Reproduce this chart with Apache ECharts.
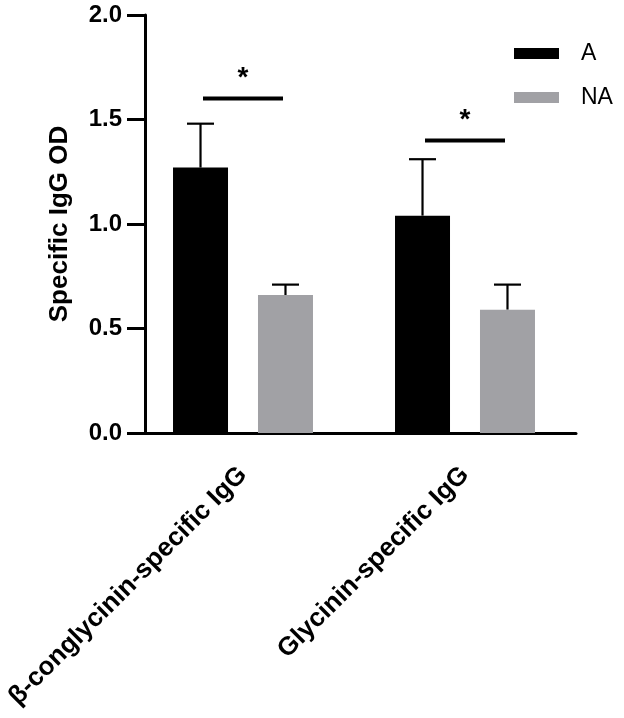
<!DOCTYPE html>
<html>
<head>
<meta charset="utf-8">
<script src="https://cdn.jsdelivr.net/npm/echarts@6/dist/echarts.min.js"></script>
<style>html,body{margin:0;padding:0;background:#fff;}#c{width:624px;height:718px;}</style>
</head>
<body>
<div id="c"></div>
<script>
const categories = ['β-conglycinin-specific IgG', 'Glycinin-specific IgG'];
const seriesNames = ['A', 'NA'];
const valuesA = [1.27, 1.04];
const valuesNA = [0.66, 0.59];
const errA = [0.21, 0.27];
const errNA = [0.05, 0.12];
const sigY = [1.60, 1.40];
const sigLabels = ['*', '*'];
const yTicks = [0, 0.5, 1.0, 1.5, 2.0];

const FONT = '"Liberation Sans", Arial, sans-serif';
const BAR_W = 55;
const GAP = 0.545;
const colors = ['#000000', '#a1a1a5'];

function errSeries(vals, errs, sign) {
  return {
    type: 'custom',
    silent: true,
    z: 1,
    data: vals.map((v, i) => [i, v, errs[i]]),
    renderItem: function (params, api) {
      const p0 = api.coord([api.value(0), api.value(1)]);
      const p1 = api.coord([api.value(0), api.value(1) + api.value(2)]);
      const off = sign * BAR_W * (1 + GAP) / 2;
      const x = p0[0] + off;
      const cap = 27;
      const st = { stroke: '#000', lineWidth: 2.2 };
      return {
        type: 'group',
        children: [
          { type: 'line', shape: { x1: x, y1: p0[1], x2: x, y2: p1[1] }, style: st },
          { type: 'line', shape: { x1: x - cap / 2, y1: p1[1], x2: x + cap / 2, y2: p1[1] }, style: st }
        ]
      };
    }
  };
}

const chart = echarts.init(document.getElementById('c'), null, { renderer: 'canvas' });
chart.setOption({
  animation: false,
  backgroundColor: '#ffffff',
  grid: { left: 132, width: 444, top: 15, height: 418 },
  legend: {
    data: seriesNames,
    orient: 'vertical',
    left: 509,
    top: 37,
    icon: 'rect',
    itemWidth: 45,
    itemHeight: 11,
    itemGap: 21,
    textStyle: { fontFamily: FONT, fontSize: 23, color: '#000', padding: [0, 0, 0, 17] }
  },
  xAxis: {
    type: 'category',
    data: categories,
    axisLine: { lineStyle: { color: '#000', width: 3 } },
    axisTick: { alignWithLabel: true, length: 18, lineStyle: { color: '#000', width: 3 } },
    axisLabel: { rotate: 45, margin: 38, color: '#000', fontFamily: FONT, fontWeight: 'bold', fontSize: 26, interval: 0 },
    splitLine: { show: false }
  },
  yAxis: {
    type: 'value',
    min: 0,
    max: 2,
    interval: 0.5,
    offset: -13,
    name: 'Specific IgG OD',
    nameLocation: 'middle',
    nameGap: 72,
    nameTextStyle: { color: '#000', fontFamily: FONT, fontWeight: 'bold', fontSize: 26 },
    axisLine: { show: true, lineStyle: { color: '#000', width: 3 } },
    axisTick: { show: true, length: 18, lineStyle: { color: '#000', width: 3 } },
    axisLabel: { margin: 23, color: '#000', fontFamily: FONT, fontWeight: 'bold', fontSize: 24,
      formatter: v => yTicks.includes(v) ? v.toFixed(1) : '' },
    splitLine: { show: false }
  },
  series: [
    { name: seriesNames[0], type: 'bar', data: valuesA, barWidth: BAR_W, barGap: (GAP * 100) + '%', itemStyle: { color: colors[0] }, z: 2 },
    { name: seriesNames[1], type: 'bar', data: valuesNA, barWidth: BAR_W, barGap: (GAP * 100) + '%', itemStyle: { color: colors[1] }, z: 2 },
    errSeries(valuesA, errA, -1),
    errSeries(valuesNA, errNA, 1),
    {
      type: 'custom',
      silent: true,
      z: 3,
      data: sigY.map((v, i) => [i, v, sigLabels[i]]),
      renderItem: function (params, api) {
        const p = api.coord([api.value(0), api.value(1)]);
        const half = 40;
        return {
          type: 'group',
          children: [
            { type: 'line', shape: { x1: p[0] - half, y1: p[1], x2: p[0] + half, y2: p[1] }, style: { stroke: '#000', lineWidth: 4 } },
            { type: 'text', style: { text: sigLabels[params.dataIndex], x: p[0], y: p[1] - 6, align: 'center', verticalAlign: 'bottom',
              font: 'bold 28px ' + FONT, fill: '#000' } }
          ]
        };
      }
    }
  ]
});
</script>
</body>
</html>
